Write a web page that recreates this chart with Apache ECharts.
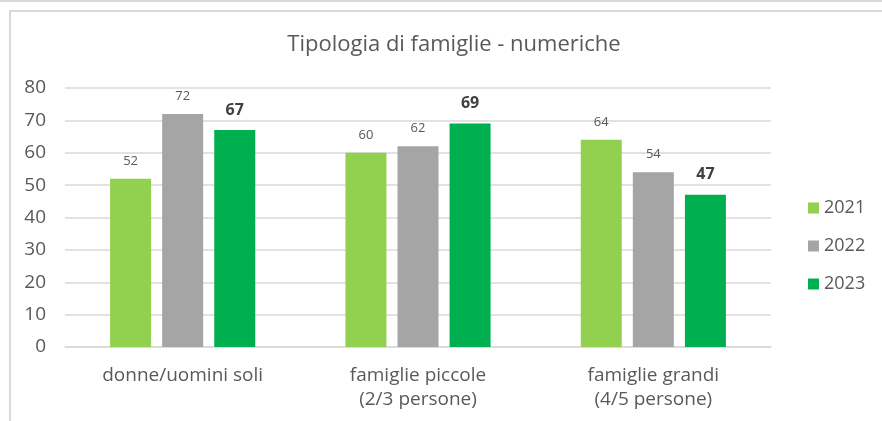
<!DOCTYPE html>
<html><head><meta charset="utf-8">
<script src="https://cdn.jsdelivr.net/npm/echarts@6/dist/echarts.min.js"></script>
<style>html,body{margin:0;padding:0;background:#fff}#frame{position:absolute;left:0;top:0;width:882px;height:421px;}
#c{width:882px;height:421px;}
.topline{position:absolute;left:0;top:0;width:882px;height:2px;background:#d9d9d9}
.border{position:absolute;left:9px;top:10px;width:880px;height:420px;border-left:2px solid #d9d9d9;border-top:2px solid #d9d9d9;box-sizing:border-box}
</style></head>
<body><div id="frame"><div id="c"></div><div class="topline"></div><div class="border"></div></div>
<script>
const categories = ['donne/uomini soli', 'famiglie piccole\n(2/3 persone)', 'famiglie grandi\n(4/5 persone)'];
const years = ['2021', '2022', '2023'];
const v2021 = [52, 60, 64];
const v2022 = [72, 62, 54];
const v2023 = [67, 69, 47];
const yTicks = [0, 10, 20, 30, 40, 50, 60, 70, 80];
const colors = ['#92D050', '#A5A5A5', '#00B050'];
const font = '"Open Sans", "Noto Sans", sans-serif';
const chart = echarts.init(document.getElementById('c'));
const mk = (name, data, i) => ({
  name, type: 'bar', data, barWidth: 41, barGap: '27%',
  itemStyle: { color: colors[i] },
  label: i === 2
    ? { show: true, position: 'top', distance: 12, fontFamily: font, fontSize: 16, fontWeight: 'bold', color: '#404040' }
    : { show: true, position: 'top', distance: 11, fontFamily: font, fontSize: 13, color: '#595959' }
});
chart.setOption({
  animation: false,
  title: { text: 'Tipologia di famiglie - numeriche', left: 449, textAlign: 'center', top: 29,
    textStyle: { fontFamily: font, fontSize: 22, fontWeight: 'normal', color: '#595959' } },
  grid: { left: 65, right: 111, top: 88, bottom: 74, containLabel: false },
  legend: { orient: 'vertical', left: 803, top: 194, itemWidth: 11, itemHeight: 11, itemGap: 20,
    icon: 'rect', textStyle: { fontFamily: font, fontSize: 18, color: '#595959' }, data: years },
  xAxis: { type: 'category', data: categories,
    axisLine: { lineStyle: { color: '#d9d9d9', width: 1.5 } }, axisTick: { show: false },
    axisLabel: { fontFamily: font, fontSize: 19, color: '#595959', margin: 17, lineHeight: 24 } },
  yAxis: { type: 'value', min: yTicks[0], max: yTicks[yTicks.length - 1], interval: 10,
    axisLine: { show: false }, axisTick: { show: false },
    splitLine: { lineStyle: { color: '#d9d9d9', width: 1.5 } },
    axisLabel: { fontFamily: font, fontSize: 19, color: '#595959', margin: 19 } },
  series: [mk(years[0], v2021, 0), mk(years[1], v2022, 1), mk(years[2], v2023, 2)]
});
</script></body></html>
